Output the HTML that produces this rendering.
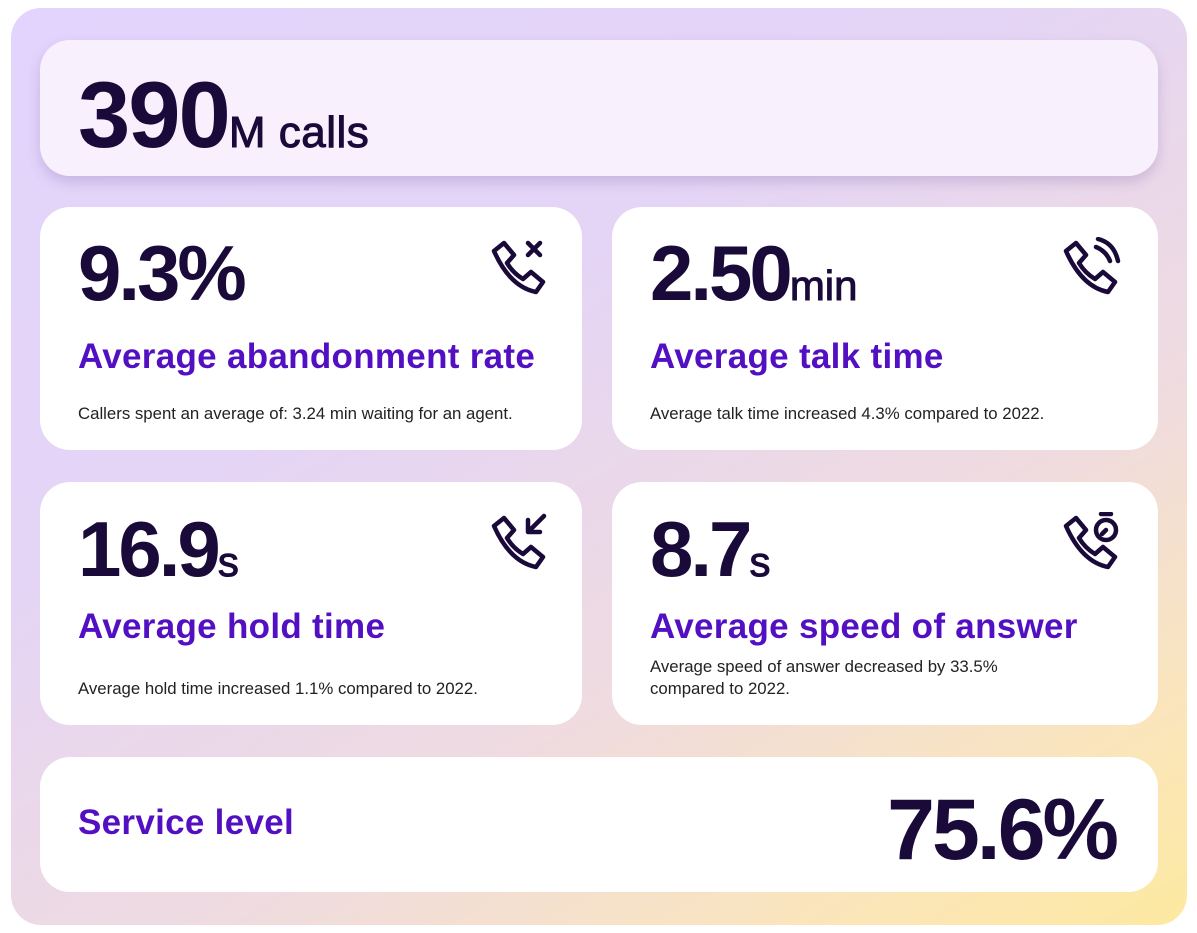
<!DOCTYPE html>
<html><head><meta charset="utf-8"><style>
body{margin:0;width:1197px;height:933px;background:#fff;font-family:"Liberation Sans",sans-serif;color:#1a0a3a;overflow:hidden}
.outer{position:absolute;left:11px;top:8px;width:1176px;height:917px;border-radius:30px;background:linear-gradient(150deg,#e2d4fc 0%,#e4d4f6 35%,#efdbe0 65%,#fbe6b8 88%,#fde9a0 100%)}
.card{position:absolute;background:#fff;border-radius:30px}
.top{left:40px;top:40px;width:1118px;height:136px;background:#f8f1fd;box-shadow:0 6px 12px rgba(120,90,160,.25)}
.big{position:absolute;font-weight:bold;letter-spacing:-3px;line-height:1}
.unit{font-size:42px;letter-spacing:0;font-weight:normal;-webkit-text-stroke:1px #1a0a3a}
.ttl{position:absolute;left:38px;color:#5210c2;font-weight:bold;font-size:35px;letter-spacing:0.3px}
.sm{position:absolute;left:38px;font-size:16.8px;color:#222;line-height:22px}
svg{position:absolute}
</style></head><body>
<div class="outer"></div>
<div class="card top"><div class="big" style="left:38px;top:28px;font-size:94px;letter-spacing:-2px">390<span class="unit" style="font-size:44px;letter-spacing:0.5px">M calls</span></div></div>

<div class="card" style="left:40px;top:207px;width:542px;height:243px">
<div class="big" style="left:38px;top:27px;font-size:78px">9.3%</div>
<div class="ttl" style="top:130px">Average abandonment rate</div>
<div class="sm" style="top:196px">Callers spent an average of: 3.24 min waiting for an agent.</div>
<svg style="left:448px;top:30px" width="62" height="62" viewBox="0 0 62 62" fill="none" stroke="#1a0a3a" stroke-width="4.5" stroke-linejoin="round" stroke-linecap="round"><path d="M6 14 L16 6 L26 18 L19 26 Q25 36 35 42 L43 35 L55 45 L48 55 Q22 50 6 14Z"/><path d="M40 6 L52 18 M52 6 L40 18"/></svg>
</div>

<div class="card" style="left:612px;top:207px;width:546px;height:243px">
<div class="big" style="left:38px;top:27px;font-size:78px">2.50<span class="unit">min</span></div>
<div class="ttl" style="top:130px">Average talk time</div>
<div class="sm" style="top:196px">Average talk time increased 4.3% compared to 2022.</div>
<svg style="left:448px;top:30px" width="62" height="62" viewBox="0 0 62 62" fill="none" stroke="#1a0a3a" stroke-width="4.5" stroke-linejoin="round" stroke-linecap="round"><path d="M6 14 L16 6 L26 18 L19 26 Q25 36 35 42 L43 35 L55 45 L48 55 Q22 50 6 14Z"/><path d="M36 10 Q46 14 50 24 M38 2 Q54 6 58 24"/></svg>
</div>

<div class="card" style="left:40px;top:482px;width:542px;height:243px">
<div class="big" style="left:38px;top:28px;font-size:78px">16.9<span class="unit">s</span></div>
<div class="ttl" style="top:125px">Average hold time</div>
<div class="sm" style="top:196px">Average hold time increased 1.1% compared to 2022.</div>
<svg style="left:448px;top:30px" width="62" height="62" viewBox="0 0 62 62" fill="none" stroke="#1a0a3a" stroke-width="4.5" stroke-linejoin="round" stroke-linecap="round"><path d="M6 14 L16 6 L26 18 L19 26 Q25 36 35 42 L43 35 L55 45 L48 55 Q22 50 6 14Z"/><path d="M56 4 L40 20 M40 8 L40 20 L52 20"/></svg>
</div>

<div class="card" style="left:612px;top:482px;width:546px;height:243px">
<div class="big" style="left:38px;top:28px;font-size:78px">8.7<span class="unit">s</span></div>
<div class="ttl" style="top:125px">Average speed of answer</div>
<div class="sm" style="top:174px">Average speed of answer decreased by 33.5%<br>compared to 2022.</div>
<svg style="left:448px;top:30px" width="62" height="62" viewBox="0 0 62 62" fill="none" stroke="#1a0a3a" stroke-width="4.5" stroke-linejoin="round" stroke-linecap="round"><path d="M6 14 L16 6 L26 18 L19 26 Q25 36 35 42 L43 35 L55 45 L48 55 Q22 50 6 14Z"/><circle cx="46" cy="18" r="10"/><path d="M41 2 L51 2 M46 18 L42 22"/></svg>
</div>

<div class="card" style="left:40px;top:757px;width:1118px;height:135px">
<div class="ttl" style="top:46px">Service level</div>
<div class="big" style="right:42px;top:30px;font-size:86px">75.6%</div>
</div>
</body></html>
